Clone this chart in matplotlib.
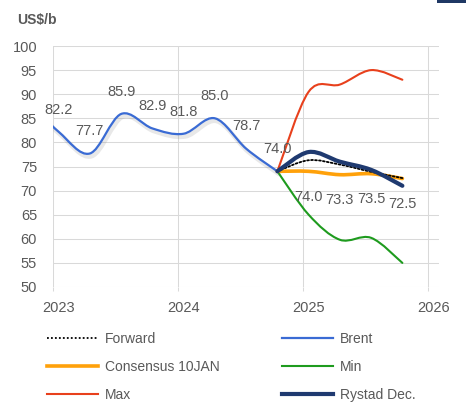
import numpy as np
import matplotlib
matplotlib.use("Agg")
import matplotlib.pyplot as plt
from matplotlib.path import Path
from matplotlib.patches import PathPatch, Rectangle
from matplotlib.lines import Line2D
import matplotlib.patheffects as pe

plt.rcParams['font.family'] = ['Liberation Sans', 'DejaVu Sans']

# ---- data ----
brent_x = [2022.795, 2023.045, 2023.295, 2023.545, 2023.795, 2024.045, 2024.295, 2024.545, 2024.795]
brent_y = [88.7, 82.2, 77.7, 85.9, 82.9, 81.8, 85.0, 78.7, 74.0]
fc_x = [2024.795, 2025.045, 2025.295, 2025.545, 2025.795]
forward = [74.0, 76.3, 75.4, 73.9, 72.6]
consensus = [74.0, 74.0, 73.3, 73.5, 72.5]
vmin = [74.0, 65.0, 59.8, 60.2, 55.0]
vmax = [74.0, 90.5, 92.0, 95.0, 93.0]
rystad = [74.0, 78.0, 76.0, 74.3, 71.0]
years = [2023, 2024, 2025, 2026]
year_labels = ['2023', '2024', '2025', '2026']
yticks = list(range(50, 101, 5))

GRAY_TXT = '#595959'
GRID = '#D9D9D9'
C_BRENT = '#3A6BD4'
C_MAX = '#E8401C'
C_MIN = '#1E9B1E'
C_CONS = '#FFA10A'
C_RYS = '#1F3A70'


def smooth_path(x, y):
    x = np.asarray(x, float)
    y = np.asarray(y, float)
    n = len(x)
    verts = [(x[0], y[0])]
    codes = [Path.MOVETO]
    for i in range(n - 1):
        p0 = np.array([x[max(i - 1, 0)], y[max(i - 1, 0)]])
        p1 = np.array([x[i], y[i]])
        p2 = np.array([x[i + 1], y[i + 1]])
        p3 = np.array([x[min(i + 2, n - 1)], y[min(i + 2, n - 1)]])
        c1 = p1 + (p2 - p0) / 6
        c2 = p2 - (p3 - p1) / 6
        verts += [tuple(c1), tuple(c2), tuple(p2)]
        codes += [Path.CURVE4] * 3
    return Path(verts, codes)


W, H = 466, 403
fig = plt.figure(figsize=(W / 100, H / 100), dpi=100)
ax = fig.add_axes([53 / W, 1 - 287 / H, (439 - 53) / W, (287 - 46) / H])
ax.set_xlim(2023, 2026.088)
ax.set_ylim(50, 100)
for s in ax.spines.values():
    s.set_visible(False)

ax.set_yticks(yticks)
ax.set_yticklabels([str(v) for v in yticks])
ax.tick_params(axis='y', length=0, pad=11.5, labelsize=10.5, labelcolor=GRAY_TXT)
ax.set_xticks(years)
ax.set_xticklabels([])
ax.set_xticks([y + 0.048 for y in years], minor=True)
ax.set_xticklabels(year_labels, minor=True)
ax.tick_params(axis='x', which='major', length=3, width=0.75, color=GRID)
ax.tick_params(axis='x', which='minor', length=0, pad=10, labelsize=10.5, labelcolor=GRAY_TXT)
ax.grid(True, which='major', color=GRID, linewidth=0.75)
ax.set_axisbelow(True)


def add_curve(x, y, color, lw, z, ls='-', effects=None):
    p = PathPatch(smooth_path(x, y), fill=False, edgecolor=color, linewidth=lw,
                  linestyle=ls, zorder=z, capstyle='round', joinstyle='round')
    if effects:
        p.set_path_effects(effects)
    ax.add_patch(p)


add_curve(brent_x, brent_y, C_BRENT, 1.6, 3,
          effects=[pe.SimpleLineShadow(offset=(1.2, -2.0), shadow_color='#8c8c8c', alpha=0.2, linewidth=3.2),
                   pe.Normal()])
add_curve(fc_x, vmax, C_MAX, 1.5, 3)
add_curve(fc_x, vmin, C_MIN, 1.5, 3)
add_curve(fc_x, consensus, C_CONS, 2.6, 4)
add_curve(fc_x, forward, 'black', 1.3, 5, ls=(0, (1, 1.2)))
add_curve(fc_x, rystad, C_RYS, 3.0, 6)

for xv, yv in zip(brent_x[1:], brent_y[1:]):
    ax.annotate(f'{yv:.1f}', (xv, yv), xytext=(0, 16), textcoords='offset points',
                ha='center', va='center', fontsize=10.5, color=GRAY_TXT, zorder=7)
for xv, yv in zip(fc_x[1:], consensus[1:]):
    ax.annotate(f'{yv:.1f}', (xv, yv), xytext=(0, -18.5), textcoords='offset points',
                ha='center', va='center', fontsize=10.5, color=GRAY_TXT, zorder=7)

fig.text(17 / W, 1 - 20 / H, 'US$/b', ha='left', va='center', fontsize=10,
         fontweight='bold', color=GRAY_TXT)

fig.patches.append(Rectangle((437 / W, 1 - 3 / H), 29 / W, 3 / H, transform=fig.transFigure,
                             facecolor='#1F3864', edgecolor='none'))

handles = [
    Line2D([], [], color='black', lw=1.3, ls=(0, (1, 1.2))),
    Line2D([], [], color=C_CONS, lw=2.6),
    Line2D([], [], color=C_MAX, lw=1.5),
    Line2D([], [], color=C_BRENT, lw=1.6),
    Line2D([], [], color=C_MIN, lw=1.5),
    Line2D([], [], color=C_RYS, lw=3.0),
]
labels = ['Forward', 'Consensus 10JAN', 'Max', 'Brent', 'Min', 'Rystad Dec.']
fig.legend(handles, labels, ncol=2, loc='upper left',
           bbox_to_anchor=(47 / W, 1 - 332 / H), frameon=False, borderpad=0,
           borderaxespad=0, handlelength=3.7, handletextpad=0.45,
           columnspacing=4.5, labelspacing=1.0, fontsize=10, labelcolor=GRAY_TXT)

fig.savefig('out.png', dpi=100)
